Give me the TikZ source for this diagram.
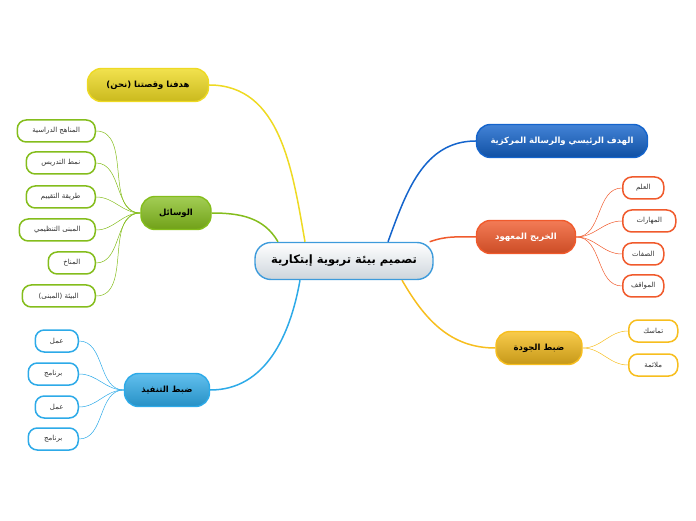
\documentclass[tikz,border=0pt]{standalone}
\usepackage{fontspec}
\usepackage{tikz}
\TeXXeTstate=1
\newfontfamily\arabicfont[Script=Arabic]{DejaVu Sans}
\newcommand{\artext}[1]{{\arabicfont\beginR #1\endR}}

\definecolor{yelB}{HTML}{EEDA22}
\definecolor{grnB}{HTML}{84BD1C}
\definecolor{bluB}{HTML}{2DAAE8}
\definecolor{dblB}{HTML}{1464CC}
\definecolor{orgB}{HTML}{F05A2C}
\definecolor{gldB}{HTML}{F7BE1E}
\definecolor{ctrB}{HTML}{3D9BDB}
\definecolor{ctrF}{HTML}{CDD5DC}

\tikzset{
  main/.style={rectangle,rounded corners=14pt,line width=1.4pt,minimum height=33pt,
    inner sep=2pt,font=\fontsize{8.5}{10}\selectfont\bfseries},
  leaf/.style={rectangle,rounded corners=9pt,line width=1.5pt,minimum height=22pt,
    fill=white,inner sep=2pt,font=\fontsize{7}{8}\selectfont,text=black!80},
  branch/.style={line width=1.5pt},
  twig/.style={line width=0.5pt}
}

\begin{document}
\begin{tikzpicture}[x=1pt,y=1pt]
  \useasboundingbox (0,0) rectangle (696,520);

  % centre
  \node[main,draw=ctrB,top color=white,bottom color=ctrF,
    minimum width=178pt,minimum height=37pt,rounded corners=16pt,
    font=\fontsize{11.5}{13}\selectfont\bfseries] (ctr) at (344,259)
    {\artext{تصميم بيئة تربوية إبتكارية}};

  % main topics
  \node[main,draw=yelB,top color=yelB!80!white,bottom color=yelB!85!black,minimum width=121pt]
    (aim) at (148,435) {\artext{هدفنا وقصتنا (نحن)}};
  \node[main,draw=grnB,top color=grnB!75!white,bottom color=grnB!85!black,minimum width=70pt]
    (tools) at (176,307) {\artext{الوسائل}};
  \node[main,draw=bluB,top color=bluB!75!white,bottom color=bluB!85!black,minimum width=85pt]
    (exec) at (167,130) {\artext{ضبط التنفيذ}};
  \node[main,draw=dblB,top color=dblB!80!white,bottom color=dblB!80!black,minimum width=171pt,
    text=white] (goal) at (562,379) {\artext{الهدف الرئيسي والرسالة المركزية}};
  \node[main,draw=orgB,top color=orgB!80!white,bottom color=orgB!85!black,minimum width=99pt,
    text=white] (grad) at (526,283) {\artext{الخريج المعهود}};
  \node[main,draw=gldB,top color=gldB!80!white,bottom color=gldB!80!black,minimum width=86pt]
    (qual) at (539,172) {\artext{ضبط الجودة}};

  % leaves of the tools
  \node[leaf,draw=grnB,anchor=east,minimum width=78pt] (t1) at (96,389) {\artext{المناهج الدراسية}};
  \node[leaf,draw=grnB,anchor=east,minimum width=69pt] (t2) at (96,357) {\artext{نمط التدريس}};
  \node[leaf,draw=grnB,anchor=east,minimum width=69pt] (t3) at (96,323) {\artext{طريقة التقييم}};
  \node[leaf,draw=grnB,anchor=east,minimum width=76pt] (t4) at (96,290) {\artext{المبنى التنظيمي}};
  \node[leaf,draw=grnB,anchor=east,minimum width=47pt] (t5) at (96,257) {\artext{المناخ}};
  \node[leaf,draw=grnB,anchor=east,minimum width=73pt] (t6) at (96,224) {\artext{البيئة (المبنى)}};

  % leaves of the execution
  \node[leaf,draw=bluB,anchor=east,minimum width=43pt] (e1) at (79,179) {\artext{عمل}};
  \node[leaf,draw=bluB,anchor=east,minimum width=50pt] (e2) at (79,146) {\artext{برنامج}};
  \node[leaf,draw=bluB,anchor=east,minimum width=43pt] (e3) at (79,113) {\artext{عمل}};
  \node[leaf,draw=bluB,anchor=east,minimum width=50pt] (e4) at (79,81) {\artext{برنامج}};

  % leaves of the graduate
  \node[leaf,draw=orgB,anchor=west,minimum width=41pt] (g1) at (622,332) {\artext{العلم}};
  \node[leaf,draw=orgB,anchor=west,minimum width=53pt] (g2) at (622,299) {\artext{المهارات}};
  \node[leaf,draw=orgB,anchor=west,minimum width=41pt] (g3) at (622,266) {\artext{الصفات}};
  \node[leaf,draw=orgB,anchor=west,minimum width=41pt] (g4) at (622,234) {\artext{المواقف}};

  % leaves of the quality
  \node[leaf,draw=gldB,anchor=west,minimum width=49pt] (q1) at (628,189) {\artext{تماسك}};
  \node[leaf,draw=gldB,anchor=west,minimum width=49pt] (q2) at (628,155) {\artext{ملائمة}};

  % branches
  \draw[branch,yelB] ([xshift=-39pt]ctr.north) to[out=100,in=0] (aim.east);
  \draw[branch,grnB] ([xshift=-66pt]ctr.north) to[out=120,in=0] (tools.east);
  \draw[branch,bluB] ([xshift=-44pt]ctr.south) to[out=-100,in=0] (exec.east);
  \draw[branch,dblB] ([xshift=44pt]ctr.north) to[out=70,in=180] (goal.west);
  \draw[branch,orgB] ([xshift=-4pt]ctr.north east) to[out=20,in=180] (grad.west);
  \draw[branch,gldB] ([xshift=58pt]ctr.south) to[out=-60,in=180] (qual.west);

  % twigs
  \draw[twig,grnB] (tools.west) to[out=180,in=0] (t1.east);
  \draw[twig,grnB] (tools.west) to[out=180,in=0] (t2.east);
  \draw[twig,grnB] (tools.west) to[out=180,in=0] (t3.east);
  \draw[twig,grnB] (tools.west) to[out=180,in=0] (t4.east);
  \draw[twig,grnB] (tools.west) to[out=180,in=0] (t5.east);
  \draw[twig,grnB] (tools.west) to[out=180,in=0] (t6.east);
  \draw[twig,bluB] (exec.west) to[out=180,in=0] (e1.east);
  \draw[twig,bluB] (exec.west) to[out=180,in=0] (e2.east);
  \draw[twig,bluB] (exec.west) to[out=180,in=0] (e3.east);
  \draw[twig,bluB] (exec.west) to[out=180,in=0] (e4.east);
  \draw[twig,orgB] (grad.east) to[out=0,in=180] (g1.west);
  \draw[twig,orgB] (grad.east) to[out=0,in=180] (g2.west);
  \draw[twig,orgB] (grad.east) to[out=0,in=180] (g3.west);
  \draw[twig,orgB] (grad.east) to[out=0,in=180] (g4.west);
  \draw[twig,gldB] (qual.east) to[out=0,in=180] (q1.west);
  \draw[twig,gldB] (qual.east) to[out=0,in=180] (q2.west);
\end{tikzpicture}
\end{document}
